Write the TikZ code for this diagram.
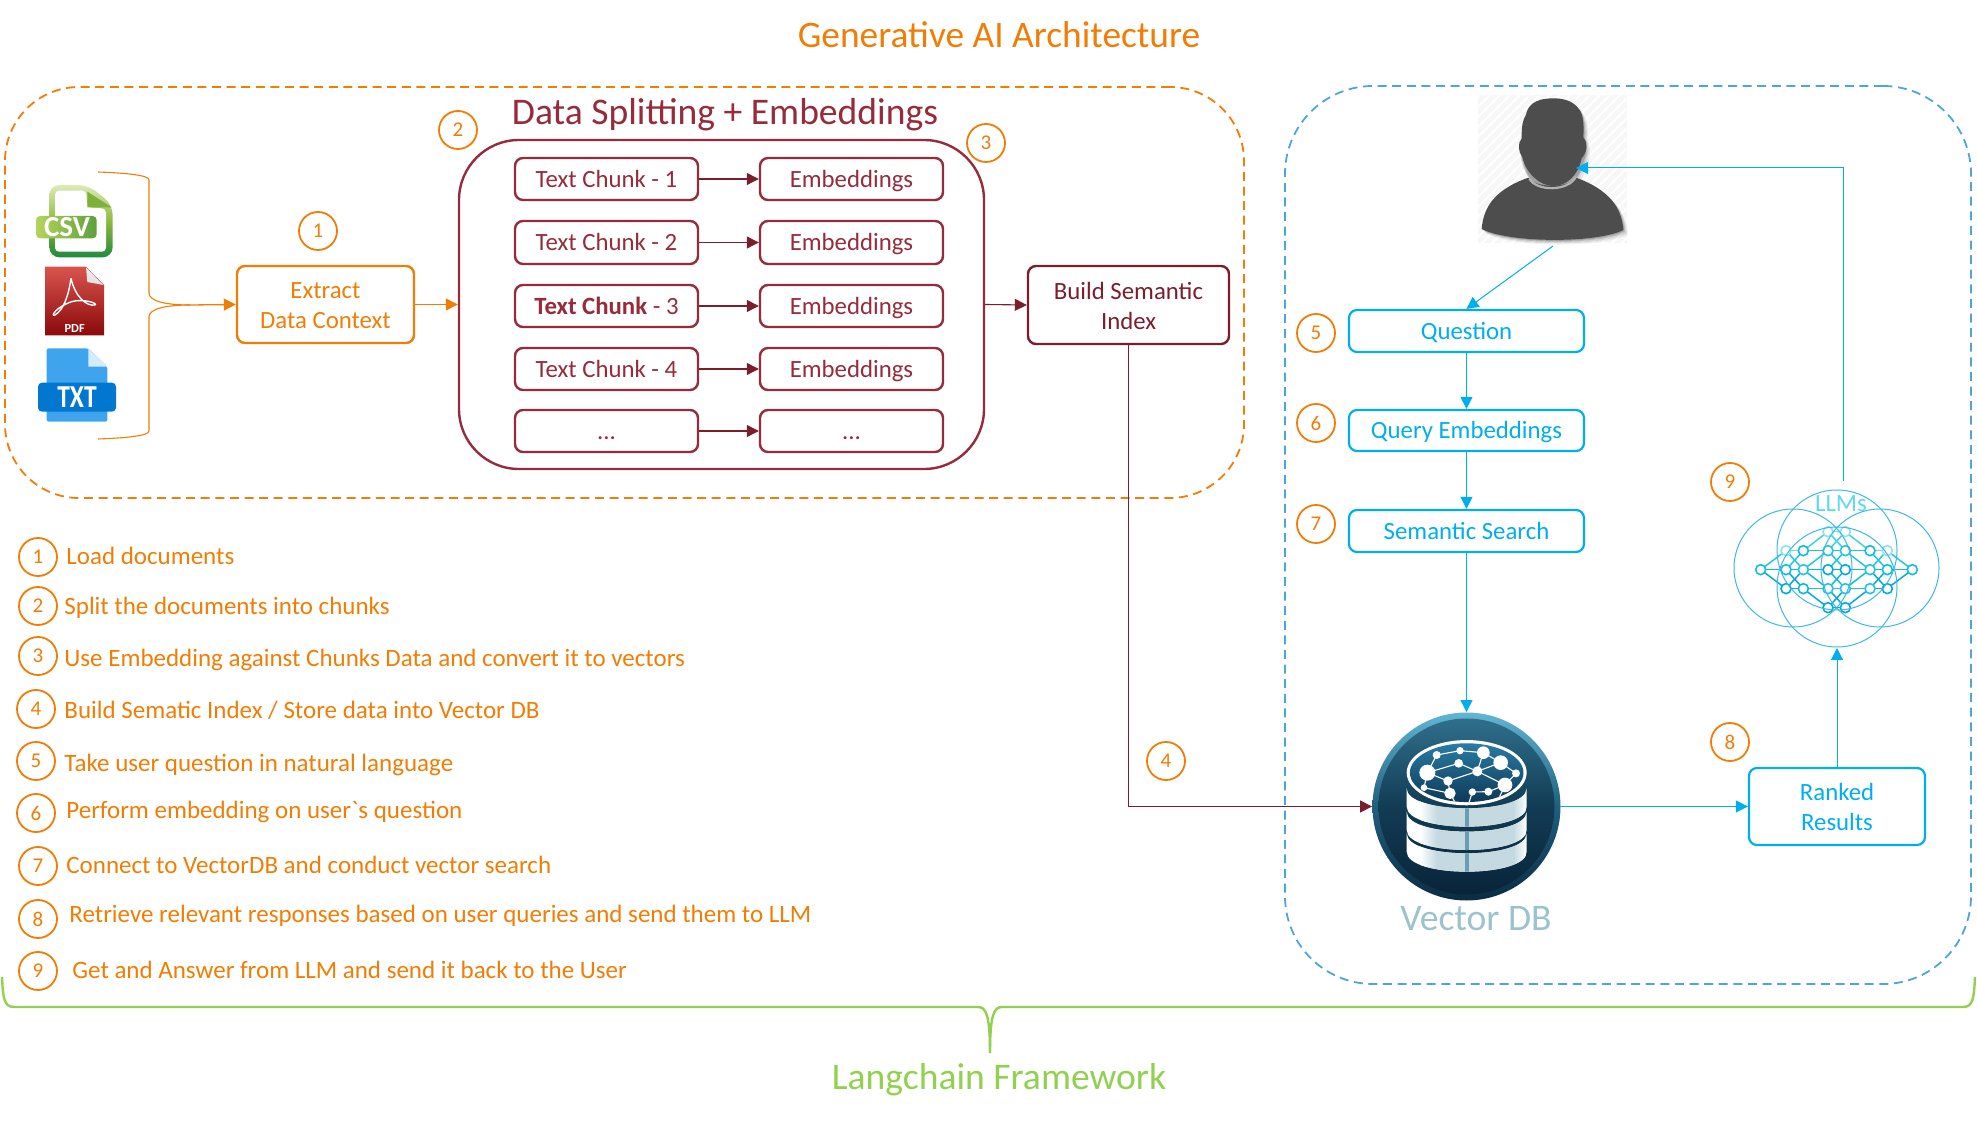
\documentclass[tikz,border=0pt]{standalone}
\usepackage{fontspec}
\setmainfont{Carlito}
\newfontfamily\plainf{Carlito}
\usetikzlibrary{arrows.meta,shapes.geometric}
\definecolor{orng}{HTML}{F07D05}
\definecolor{dred}{HTML}{952B3B}
\definecolor{dkred}{HTML}{7B1E2C}
\definecolor{blu}{HTML}{00AEEF}
\definecolor{bludash}{HTML}{4CA6DC}
\definecolor{grn}{HTML}{92D050}
\definecolor{vdb}{HTML}{9CC3CC}
\definecolor{usr}{HTML}{4D4D4D}
\definecolor{collar}{HTML}{B3B3B3}
\newcommand{\hx}[1]{\definecolor{#1}{HTML}{#1}}
\hx{DCEBB8}\hx{1F8A3E}\hx{8DBB3C}\hx{7FB03A}\hx{B4D45A}\hx{5F9F3C}\hx{D9544E}\hx{8A0A0A}\hx{E6E6E6}\hx{3FA4EE}\hx{D5ECFC}\hx{0277CF}\hx{F7F7F7}
\hx{62B6D2}\hx{0B2C42}\hx{1F5F7E}\hx{2F6F8C}\hx{08243A}\hx{123C54}\hx{2B7FA8}\hx{0B3552}\hx{5FD8F0}
\hx{25C3E2}\hx{10BCDC}\hx{08A8DA}\hx{6AD8EE}\hx{40D0EA}\hx{8BE3F2}\hx{12BFDD}\hx{12BCDC}\hx{10B8DC}
\definecolor{C9DDE3}{HTML}{C4DAE0}
\definecolor{6A9CB2}{HTML}{6A9CB2}
\tikzset{
  zu/.style={x=0.16667pt,y=-0.16667pt},
  bodyfont/.style={font=\fontsize{12.4}{15}\selectfont},
  pbox/.style={draw,rounded corners=4pt,inner sep=0pt,align=center,bodyfont},
  oneline/.style={text height=11pt,text depth=2.6pt},
  obox/.style={pbox,draw=orng,text=orng,line width=1.2pt},
  rbox/.style={pbox,draw=dred,text=dred,line width=1.2pt},
  kbox/.style={pbox,draw=dkred,text=dkred,line width=1.2pt},
  bbox/.style={pbox,draw=blu,text=blu,line width=1.1pt},
  num/.style={ellipse,draw=orng,text=orng,line width=.9pt,inner sep=0pt,minimum width=19pt,minimum height=19pt,yshift=-.5pt,font=\fontsize{10.5}{12}\selectfont},
  steptext/.style={anchor=west,inner sep=0pt,text=orng,text height=11pt,text depth=2.6pt,font=\fontsize{12.5}{14}\selectfont},
  oarrow/.style={draw=orng,line width=.65pt,-{Triangle[length=6pt,width=6pt]}},
  rarrow/.style={draw=dkred,line width=.55pt,-{Triangle[length=6pt,width=6pt]}},
  barrow/.style={draw=blu,line width=.5pt,-{Triangle[length=6pt,width=6pt]}},
  netline/.style={line width=.75pt},
  llmring/.style={draw=bludash!80!cyan,line width=.5pt},
  netnode/.style={line width=.8pt,fill=white}
}
\newcommand{\pxbox}[7][]{%
  \pgfmathsetmacro{\cxx}{(#3+#5)/2}\pgfmathsetmacro{\cyy}{(#4+#6)/2}%
  \pgfmathsetmacro{\www}{(#5-#3)/2}\pgfmathsetmacro{\hhh}{(#6-#4)/2}%
  \node[#1,minimum width=\www pt,minimum height=\hhh pt] (#2) at (\cxx,\cyy) {#7};}
\newcommand{\netedge}[5]{\draw[netline,draw=#1] (#2,#3)--(#4,#5); \draw[netline,draw=#1] (519-#2,#3)--(519-#4,#5);}
\newcommand{\slice}[1]{%
  \begin{scope}
   \clip (20,#1) -- (20,#1+55) .. controls (20,#1+135) and (380,#1+135) .. (380,#1+55) -- (380,#1) .. controls (380,#1+80) and (20,#1+80) .. (20,#1) -- cycle;
   \fill[white] (0,#1-10) rectangle (400,#1+160);
   \shade[left color=white,right color=C9DDE3] (60,#1-10) rectangle (110,#1+160);
   \fill[C9DDE3] (110,#1-10) rectangle (340,#1+160);
   \shade[left color=C9DDE3,right color=white] (340,#1-10) rectangle (380,#1+160);
   \fill[6A9CB2] (195,#1-10) rectangle (207,#1+160);
  \end{scope}}
\newcommand{\lift}{\rule{0pt}{9.2pt}}
\begin{document}
\begin{tikzpicture}[x=0.5pt,y=-0.5pt]
\useasboundingbox (0,0) rectangle (1977,1122);
% titles
\node[text=orng,font=\fontsize{18.7}{22}\selectfont,inner sep=0pt] (title) at (999,35) {Generative AI Architecture};
\node[text=dred,font=\fontsize{18.8}{22}\selectfont,inner sep=0pt] (split) at (725,115) {Data Splitting + Embeddings};
\node[text=grn,font=\fontsize{18.8}{22}\selectfont,inner sep=0pt] (lang) at (999,1080) {Langchain Framework};
% containers
\pxbox[pbox,draw=orng,dash pattern=on 4.5pt off 2.8pt,line width=.9pt,rounded corners=37pt]{orangeframe}{5}{87}{1244}{498}{}
\pxbox[pbox,draw=bludash,dash pattern=on 4.5pt off 2.8pt,line width=.9pt,rounded corners=44pt]{blueframe}{1285}{86}{1971}{984}{}
\pxbox[rbox,rounded corners=30pt]{big}{459}{140}{984}{469}{}
% left boxes
\pxbox[obox]{extract}{237}{266}{414}{343}{\lift Extract\\Data Context}
\pxbox[rbox,oneline]{ch1}{515}{158}{698}{200}{Text Chunk - 1}
\pxbox[rbox,oneline]{ch2}{515}{221}{698}{264}{Text Chunk - 2}
\pxbox[rbox,oneline]{ch3}{515}{285}{698}{327}{\textbf{Text Chunk} - 3}
\pxbox[rbox,oneline]{ch4}{515}{348}{698}{390}{Text Chunk - 4}
\pxbox[rbox,oneline]{ch5}{515}{410}{698}{452}{...}
\pxbox[rbox,oneline]{em1}{760}{158}{943}{200}{Embeddings}
\pxbox[rbox,oneline]{em2}{760}{221}{943}{264}{Embeddings}
\pxbox[rbox,oneline]{em3}{760}{285}{943}{327}{Embeddings}
\pxbox[rbox,oneline]{em4}{760}{348}{943}{390}{Embeddings}
\pxbox[rbox,oneline]{em5}{760}{410}{943}{452}{...}
\pxbox[kbox]{build}{1028}{266}{1229}{344}{\lift Build Semantic\\Index}
% right boxes
\pxbox[bbox,oneline]{question}{1349}{310}{1584}{352}{Question}
\pxbox[bbox,oneline]{query}{1349}{410}{1584}{451}{Query Embeddings}
\pxbox[bbox,oneline]{semantic}{1349}{510}{1584}{552}{Semantic Search}
\pxbox[bbox]{ranked}{1749}{768}{1925}{845}{\lift Ranked\\Results}
\node[circle,inner sep=0pt,minimum size=94pt] (db) at (1466.5,806.5) {};
% document icons
\begin{scope}[shift={(0,150)},zu]
 % CSV
 \shade[top color=DCEBB8,bottom color=1F8A3E,middle color=8DBB3C,rounded corners=5pt] (148,105) -- (265,105) -- (338,165) -- (338,322) -- (148,322) -- cycle;
 \fill[white,rounded corners=2pt] (165,122) -- (258,122) -- (262,172) -- (318,176) -- (318,305) -- (165,305) -- cycle;
 \fill[7FB03A] (262,125) -- (335,172) -- (262,172) -- cycle;
 \shade[left color=B4D45A,right color=5F9F3C,rounded corners=2pt] (108,198) rectangle (290,265);
 \node[text=white,font=\bfseries\fontsize{14.5}{15}\selectfont,inner sep=0pt] (csv) at (201,231) {CSV};
 % PDF
 \shade[top color=D9544E,bottom color=8A0A0A] (135,350) -- (258,350) -- (312,405) -- (312,556) -- (135,556) -- cycle;
 \fill[E6E6E6] (258,352) -- (310,405) -- (262,396) -- cycle;
 \draw[white,line width=.7pt] (213,385) .. controls (205,440) and (190,480) .. (165,495) .. controls (150,500) and (170,470) .. (215,455) .. controls (250,445) and (295,460) .. (285,465) .. controls (260,470) and (225,440) .. (213,385);
 \node[text=white,font=\bfseries\fontsize{6.2}{7}\selectfont,inner sep=0pt] (pdf) at (224,535) {PDF};
 % TXT
 \fill[3FA4EE,rounded corners=1pt] (140,595) -- (265,595) -- (322,650) -- (322,815) -- (140,815) -- cycle;
 \fill[D5ECFC] (265,595) -- (322,650) -- (265,650) -- cycle;
 \fill[0277CF,rounded corners=2pt] (114,698) rectangle (348,785);
 \node[text=white,font=\bfseries\fontsize{16}{16}\selectfont,inner sep=0pt] (txt) at (231,741) {\scalebox{.8}[1]{TXT}};
\end{scope}
% brackets
\coordinate (bta) at (98,172);
\coordinate (bba) at (98,439);
\coordinate (bmid) at (190,305);
\draw[orng,line width=.55pt] (bta) .. controls (125,173) and (149,175) .. (149,180) -- (149,293) .. controls (149,301) and (165,305) .. (bmid);
\draw[orng,line width=.55pt] (bba) .. controls (125,438) and (149,436) .. (149,431) -- (149,317) .. controls (149,309) and (165,305) .. (bmid);
\draw[oarrow] (bmid) -- (extract.west);
\draw[oarrow] (extract.east) -- (big.west);
\foreach \i in {1,...,5} \draw[rarrow] (ch\i.east) -- (em\i.west);
\draw[rarrow] (big.east) -- (build.west);
% user
\begin{scope}[shift={(1440,80)},zu]
 \fill[F7F7F7] (115,45) rectangle (560,490);
 \begin{scope}
  \clip (115,45) rectangle (560,490);
  \foreach \k in {-440,-410,...,460} \draw[white,line width=1pt] (115+\k,490) -- (560+\k,45);
 \end{scope}
 \foreach \s/\o in {14/.06,10/.08,6/.12,3/.15}{
  \fill[black,opacity=\o,shift={(\s,\s)}] (125,447) .. controls (130,385) and (160,330) .. (265,293) .. controls (230,240) and (237,195) .. (245,175) .. controls (240,90) and (270,55) .. (340,55) .. controls (410,55) and (435,95) .. (430,170) .. controls (445,200) and (430,250) .. (405,293) .. controls (510,330) and (545,385) .. (550,450) .. controls (470,490) and (210,490) .. (125,447) -- cycle;}
 \fill[usr] (125,447) .. controls (130,385) and (160,330) .. (265,293) .. controls (285,325) and (385,325) .. (408,293) .. controls (510,330) and (545,385) .. (550,450) .. controls (470,490) and (210,490) .. (125,447) -- cycle;
 \draw[collar,line width=1.1pt] (268,296) .. controls (290,335) and (385,335) .. (408,290);
 \fill[usr] (340,55) .. controls (280,55) and (262,80) .. (258,105) .. controls (245,125) and (245,150) .. (245,175) .. controls (232,190) and (235,215) .. (247,232) .. controls (258,280) and (300,318) .. (340,318) .. controls (380,318) and (415,285) .. (425,235) .. controls (442,215) and (445,190) .. (430,172) .. controls (432,130) and (430,100) .. (415,85) .. controls (400,65) and (375,55) .. (340,55) -- cycle;
\end{scope}
\coordinate (userout) at (1553,246);
\coordinate (userin) at (1576,168);
\draw[barrow] (userout) -- (question.north);
\draw[barrow] (question) -- (query);
\draw[barrow] (query) -- (semantic);
\draw[barrow] (semantic) -- (db.north);
\draw[rarrow] (build.south) |- (db.west);
\draw[barrow] (db.east) -- (ranked.west);
% LLM drawing
\coordinate (llmin) at (1837,648);
\coordinate (llmout) at (1843,481);
\draw[barrow] (ranked.north) -- (llmin);
\draw[barrow] (llmout) |- (userin);
\begin{scope}[shift={(1750,520)},zu]
 % A to B
 \netedge{25C3E2}{32}{149}{108}{92}\netedge{10BCDC}{32}{149}{108}{149}\netedge{08A8DA}{32}{149}{108}{206}
 % B to C
 \netedge{6AD8EE}{108}{92}{160}{92}\netedge{10BCDC}{108}{149}{160}{149}\netedge{08A8DA}{108}{206}{160}{206}
 \netedge{25C3E2}{108}{92}{160}{149}\netedge{25C3E2}{108}{149}{160}{92}\netedge{08A8DA}{108}{149}{160}{206}\netedge{08A8DA}{108}{206}{160}{149}
 % C to D
 \netedge{40D0EA}{160}{92}{234}{35}\netedge{25C3E2}{160}{92}{234}{92}\netedge{10BCDC}{160}{149}{234}{149}\netedge{25C3E2}{160}{206}{234}{206}\netedge{08A8DA}{160}{206}{234}{263}
 \netedge{25C3E2}{160}{149}{234}{92}\netedge{10BCDC}{160}{149}{234}{206}
 % D to E
 \foreach \r/\col in {35/6AD8EE,92/25C3E2,149/08A8DA,206/25C3E2,263/08A8DA}{\draw[netline,draw=\col] (234,\r) -- (286,\r);}
 \foreach \r/\q/\col in {35/92/40D0EA,92/149/25C3E2,149/206/10BCDC,206/263/08A8DA}{
   \draw[netline,draw=\col] (234,\r) -- (286,\q); \draw[netline,draw=\col] (286,\r) -- (234,\q);}
 % nodes
 \foreach \x/\y/\col in {32/149/12BFDD,487/149/12BFDD,
   108/92/8BE3F2,108/149/12BCDC,108/206/08A8DA,
   160/92/10BCDC,160/149/25C3E2,160/206/10B8DC,
   234/35/8BE3F2,234/92/25C3E2,234/149/08A8DA,234/206/25C3E2,234/263/08A8DA,
   286/35/8BE3F2,286/92/25C3E2,286/149/08A8DA,286/206/25C3E2,286/263/08A8DA,
   360/92/10BCDC,360/149/25C3E2,360/206/25C3E2,
   412/92/8BE3F2,412/149/12BCDC,412/206/08A8DA}
   {\filldraw[netnode,draw=\col] (\x,\y) circle[radius=15];}
\end{scope}
\draw[llmring] (1793,568) circle[radius=59];
\draw[llmring] (1880,568) circle[radius=59];
\draw[llmring] (1837,550) circle[radius=60];
\draw[llmring] (1837,587) circle[radius=60];
\node[text=5FD8F0,font=\fontsize{12.4}{14}\selectfont,inner sep=0pt] (llms) at (1841,504) {LLMs};
% Vector DB icon
\shade[top color=62B6D2,bottom color=0B2C42,middle color=1F5F7E] (db.center) circle[radius=94];
\shade[top color=2F6F8C,bottom color=08243A,middle color=123C54] (db.center) circle[radius=88];
\begin{scope}[shift={(1400,730)},zu]
 \slice{310}
 \slice{245}
 \slice{175}
 \fill[white] (200,128) ellipse[x radius=30pt,y radius=16.3pt];
 \begin{scope}
  \clip (200,128) ellipse[x radius=28.4pt,y radius=14.7pt];
  \shade[top color=2B7FA8,bottom color=0B3552] (0,30) rectangle (400,230);
  \draw[white,line width=.55pt] (110,75)--(180,62)--(250,68)--(302,98)--(348,130)--(315,165)--(265,185)--(217,186)--(200,240);
  \draw[white,line width=.55pt] (110,75)--(82,128)--(176,100)--(232,124)--(250,68);
  \draw[white,line width=.55pt] (302,98)--(232,124)--(315,165)--(285,230);
  \draw[white,line width=.55pt] (232,124)--(144,153)--(82,128)--(72,173)--(150,190)--(144,153);
  \draw[white,line width=.55pt] (150,190)--(175,235);
  \foreach \x/\y/\r in {110/75/12,180/62/11,250/68/19,302/98/22,348/130/12,315/165/22,265/185/12,217/186/11,232/124/15,176/100/13,82/128/24,144/153/14,72/173/10,150/190/17}
    \fill[white] (\x,\y) circle[radius=\r];
 \end{scope}
\end{scope}
\node[text=vdb,font=\fontsize{18.8}{22}\selectfont,inner sep=0pt] (vdblabel) at (1476,919) {Vector DB};
% brace
\coordinate (bl) at (2,977);
\coordinate (br) at (1975,977);
\coordinate (btip) at (990,1053);
\draw[grn,line width=1.2pt] (bl) .. controls (3,998) and (4,1007) .. (14,1007) -- (978,1007) .. controls (986,1007) and (990,1015) .. (btip);
\draw[grn,line width=1.2pt] (br) .. controls (1974,998) and (1973,1007) .. (1963,1007) -- (1002,1007) .. controls (994,1007) and (990,1015) .. (btip);
% numbered circles near figure
\node[num] (n1) at (318,230) {1};
\node[num] (n2) at (458,129) {2};
\node[num] (n3) at (986,142) {3};
\node[num] (n4) at (1166,760) {4};
\node[num] (n5) at (1316,332) {5};
\node[num] (n6) at (1316,422) {6};
\node[num] (n7) at (1316,523) {7};
\node[num] (n8) at (1730,741) {8};
\node[num] (n9) at (1730,481) {9};
% list
\node[num] (l1) at (38,556) {1};
\node[num] (l2) at (38,605) {2};
\node[num] (l3) at (38,655) {3};
\node[num] (l4) at (36,708) {4};
\node[num] (l5) at (36,760) {5};
\node[num] (l6) at (36,812) {6};
\node[num] (l7) at (38,865) {7};
\node[num] (l8) at (38,918) {8};
\node[num] (l9) at (38,970) {9};
\node[steptext] (t1) at (66,556) {Load documents};
\node[steptext] (t2) at (64,606) {Split the documents into chunks};
\node[steptext] (t3) at (64,658) {Use Embedding against Chunks Data and convert it to vectors};
\node[steptext] (t4) at (64,710) {Build Sematic Index / Store data into Vector DB};
\node[steptext] (t5) at (64,763) {Take user question in natural language};
\node[steptext] (t6) at (66,810) {Perform embedding on user{\plainf `}s question};
\node[steptext] (t7) at (66,865) {Connect to VectorDB and conduct vector search};
\node[steptext] (t8) at (69,914) {Retrieve relevant responses based on user queries and send them to LLM};
\node[steptext] (t9) at (72,970) {Get and Answer from LLM and send it back to the User};
\end{tikzpicture}
\end{document}
